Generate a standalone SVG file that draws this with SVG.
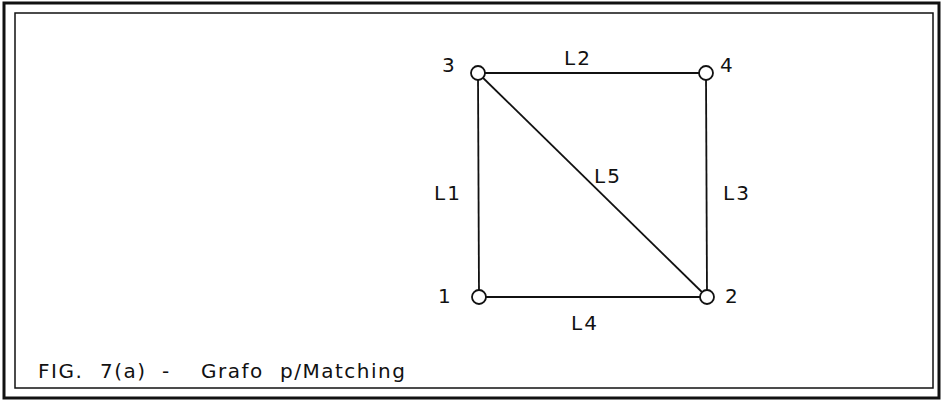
<svg xmlns="http://www.w3.org/2000/svg" width="943" height="401" viewBox="0 0 943 401">
<style>
.frame{fill:none;stroke:#111}
.edge{stroke:#111;stroke-width:1.8;fill:none}
.node{fill:#fff;stroke:#111;stroke-width:1.8}
.lbl{font-family:"DejaVu Sans","Liberation Sans",sans-serif;font-size:20px;fill:#111;letter-spacing:2px}
.cap{font-family:"DejaVu Sans","Liberation Sans",sans-serif;font-size:20px;fill:#111;letter-spacing:1.5px}
</style>
<rect width="943" height="401" fill="#fff"/>
<rect class="frame" x="4" y="3" width="935" height="395" stroke-width="3"/>
<rect class="frame" x="15" y="13" width="918" height="375" stroke-width="1.5"/>
<g id="connectors">
<line class="edge" x1="478" y1="73" x2="706" y2="73"/>
<line class="edge" x1="478" y1="73" x2="479" y2="297"/>
<line class="edge" x1="706" y1="73" x2="707" y2="297"/>
<line class="edge" x1="479" y1="297" x2="707" y2="297"/>
<line class="edge" x1="478" y1="73" x2="707" y2="297"/>
</g>
<g id="edge-labels">
<text class="lbl" x="564" y="65">L2</text>
<text class="lbl" x="434" y="200">L1</text>
<text class="lbl" x="594" y="183">L5</text>
<text class="lbl" x="723" y="200">L3</text>
<text class="lbl" x="571" y="330">L4</text>
</g>
<g id="node3"><circle class="node" cx="478" cy="73" r="7"/><text class="lbl" x="442" y="72">3</text></g>
<g id="node4"><circle class="node" cx="706" cy="73" r="7"/><text class="lbl" x="720" y="72">4</text></g>
<g id="node1"><circle class="node" cx="479" cy="297" r="7"/><text class="lbl" x="438" y="303">1</text></g>
<g id="node2"><circle class="node" cx="707" cy="297" r="7"/><text class="lbl" x="725" y="303">2</text></g>
<text class="cap" y="378"><tspan x="38">FIG.</tspan><tspan x="100">7(a)</tspan><tspan x="162">-</tspan><tspan x="201">Grafo</tspan><tspan x="280">p/Matching</tspan></text>
</svg>
